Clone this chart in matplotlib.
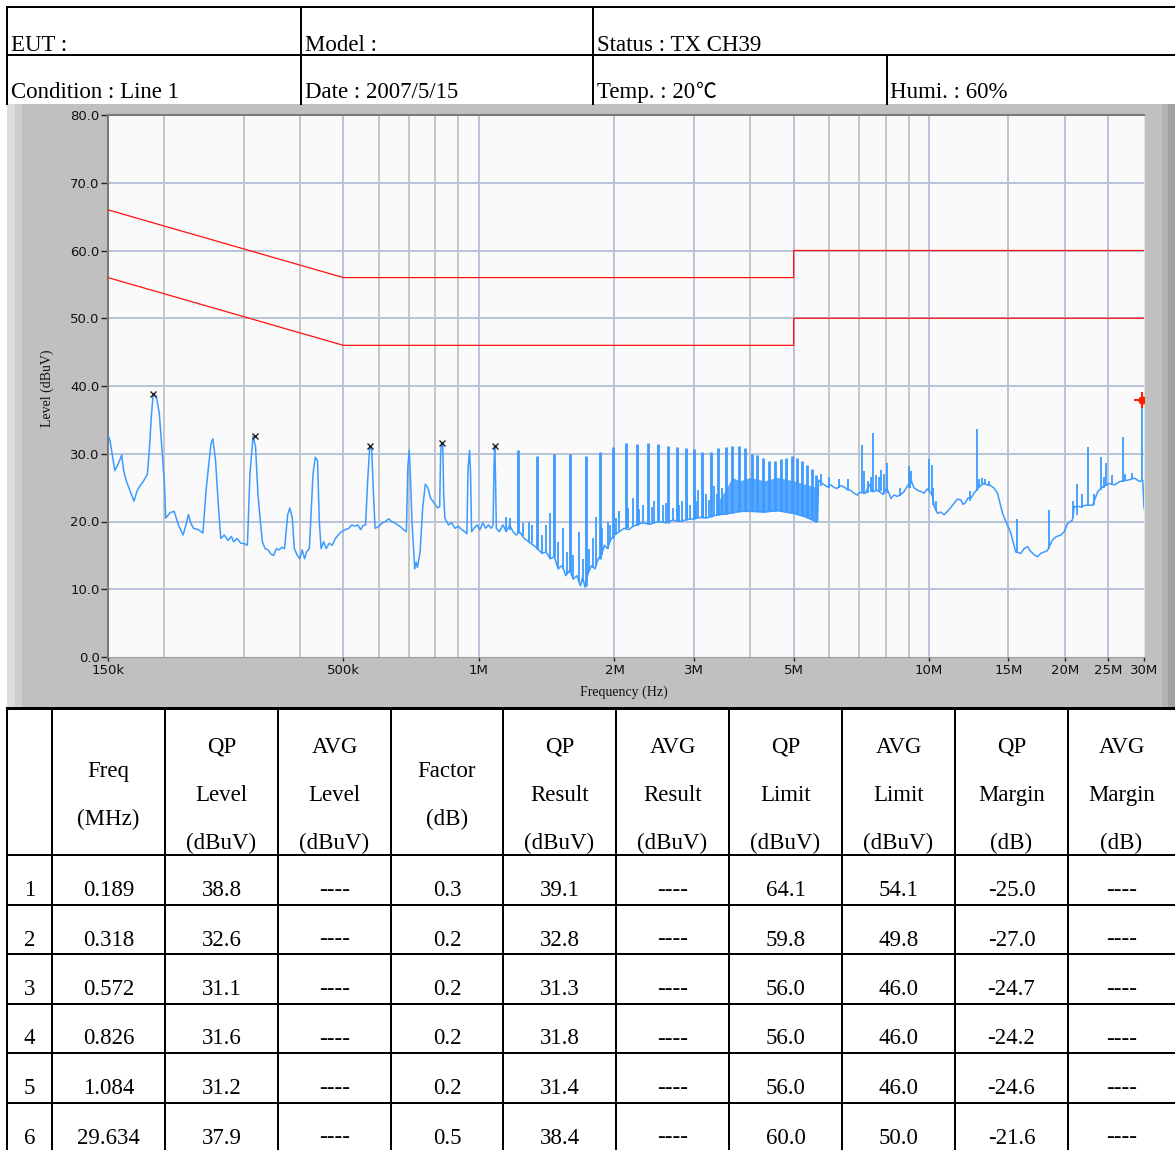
import matplotlib
matplotlib.use("Agg")
import matplotlib.pyplot as plt
from matplotlib.patches import Rectangle

# ---- measured trace (MHz, dBuV) ----
trace_f = [0.150, 0.1515, 0.1532, 0.1553, 0.1580, 0.1609, 0.1625, 0.1647, 0.1680, 0.1713,
           0.1740, 0.1764, 0.1800, 0.1835, 0.1855, 0.1872, 0.1890, 0.1920, 0.1950, 0.1975,
           0.2000, 0.2015, 0.2060, 0.2104, 0.2150, 0.2202, 0.2235, 0.2263, 0.2290, 0.2322,
           0.2380, 0.2437, 0.2480, 0.2540, 0.2565, 0.2600, 0.2640, 0.2670, 0.2720, 0.2770,
           0.2820, 0.2851, 0.2900, 0.2960, 0.3023, 0.3060, 0.3100, 0.3150, 0.3190, 0.3230,
           0.3270, 0.3304, 0.3350, 0.3402, 0.3450, 0.3500, 0.3550, 0.3600, 0.3650, 0.3700,
           0.3760, 0.3800, 0.3850, 0.3890, 0.3950, 0.4000, 0.4050, 0.4100, 0.4140, 0.4200,
           0.4280, 0.4330, 0.4380, 0.4420, 0.4460, 0.4520, 0.4580, 0.4650, 0.4720, 0.4800,
           0.4870, 0.4950, 0.5050, 0.5140, 0.5220, 0.5300, 0.5380, 0.5460, 0.5530, 0.5600,
           0.5660, 0.5720, 0.5780, 0.5830, 0.5880, 0.6000, 0.6100, 0.6200, 0.6300, 0.6400,
           0.6500, 0.6600, 0.6700, 0.6800, 0.6900, 0.6950, 0.7000, 0.7050, 0.7100, 0.7200,
           0.7250, 0.7300, 0.7400, 0.7500, 0.7600, 0.7700, 0.7800, 0.7900, 0.8000, 0.8100,
           0.8180, 0.8220, 0.8260, 0.8310, 0.8350, 0.8400, 0.8550, 0.8700, 0.8850, 0.9000,
           0.9150, 0.9300, 0.9400, 0.9460, 0.9530, 0.9580, 0.9630, 0.9750, 0.9900, 1.0050,
           1.0200, 1.0350, 1.0500, 1.0650, 1.0750, 1.0800, 1.0840, 1.0880, 1.0930, 1.1100,
           1.1300, 1.1500, 1.1700, 1.1900, 1.2100, 1.2300, 1.2600, 1.2900, 1.3200, 1.3500,
           1.3800, 1.4100, 1.4400, 1.4700, 1.5000, 1.5300, 1.5600, 1.5900, 1.6200, 1.6500,
           1.6800, 1.7000, 1.7200, 1.7500, 1.7800, 1.8100, 1.8400, 1.8700, 1.9000, 1.9300,
           1.9600, 2.0000, 2.0500, 2.1000, 2.1500, 2.2000, 2.2500, 2.3000, 2.4000, 2.5000,
           2.6000, 2.7000, 2.8000, 2.9000, 3.0000, 3.1000, 3.2000, 3.3000, 3.4000, 3.6000,
           3.8000, 4.0000, 4.3000, 4.6000, 5.0000, 5.3000, 5.6000, 5.6500, 5.6800, 5.7900,
           5.9400, 6.0500, 6.1500, 6.2500, 6.3500, 6.4700, 6.5800, 6.6900, 6.8000, 6.9300,
           7.0000, 7.2300, 7.3500, 7.5000, 7.6800, 7.9000, 8.0500, 8.2200, 8.3500, 8.5000,
           8.6500, 8.7900, 9.0000, 9.1300, 9.2500, 9.4200, 9.6000, 9.7400, 9.9000, 10.150,
           10.260, 10.440, 10.600, 10.790, 10.980, 11.150, 11.360, 11.550, 11.750, 11.900,
           12.060, 12.200, 12.370, 12.580, 12.910, 13.200, 13.480, 13.700, 13.940, 14.180,
           14.550, 14.850, 15.180, 15.570, 15.980, 16.250, 16.540, 16.800, 17.100, 17.400,
           17.700, 18.000, 18.300, 18.790, 19.200, 19.610, 19.950, 20.300, 20.800, 21.000,
           21.700, 22.300, 23.070, 23.670, 24.280, 25.100, 25.800, 26.500, 27.600, 28.600,
           29.300, 29.800, 30.000]
trace_db = [32.8, 32.0, 30.0, 27.5, 28.5, 29.8, 27.5, 26.0, 24.5, 23.0,
            24.5, 25.2, 26.0, 27.0, 31.0, 35.5, 38.8, 38.5, 36.0, 31.0,
            26.0, 20.5, 21.3, 21.5, 19.5, 18.0, 19.5, 21.0, 19.8, 19.0,
            18.8, 18.3, 25.0, 31.5, 32.2, 29.0, 22.0, 17.5, 18.0, 17.2,
            17.8, 17.0, 17.5, 16.8, 16.7, 16.5, 27.0, 32.6, 31.0, 24.0,
            20.0, 17.0, 16.0, 15.8, 15.2, 15.0, 16.0, 15.8, 16.2, 16.0,
            21.0, 22.0, 20.5, 16.0, 15.0, 14.5, 15.8, 14.5, 15.5, 16.0,
            27.0, 29.5, 29.0, 20.0, 16.0, 17.0, 16.0, 16.8, 16.5, 17.5,
            18.0, 18.5, 18.8, 19.0, 19.5, 19.3, 19.5, 18.8, 19.4, 19.5,
            26.0, 31.1, 30.5, 24.0, 19.0, 19.3, 19.8, 20.0, 20.4, 20.0,
            19.8, 19.5, 19.2, 18.8, 18.5, 28.0, 30.5, 26.0, 20.0, 13.0,
            14.0, 13.2, 15.5, 22.0, 25.5, 25.0, 23.5, 23.0, 22.5, 22.0,
            22.2, 30.0, 31.6, 31.3, 24.0, 20.5, 19.5, 19.8, 19.0, 19.3,
            18.8, 18.5, 18.2, 28.0, 30.5, 27.0, 18.5, 19.0, 19.5, 18.8,
            19.8, 19.0, 19.5, 19.0, 19.5, 28.0, 31.2, 27.0, 19.0, 18.5,
            19.5, 18.5, 19.5, 18.5, 18.0, 18.5, 17.5, 17.0, 16.5, 16.0,
            15.3, 15.5, 14.5, 14.8, 13.0, 13.5, 12.0, 12.8, 11.5, 12.0,
            10.5, 11.8, 10.3, 12.5, 13.5, 13.0, 14.5, 15.0, 16.5, 16.0,
            17.3, 18.0, 18.5, 19.0, 18.8, 19.3, 19.5, 19.8, 19.6, 20.0,
            19.8, 20.2, 20.0, 20.3, 20.4, 20.6, 20.5, 20.8, 21.0, 21.2,
            21.5, 21.5, 21.4, 21.6, 21.2, 20.7, 20.0, 20.0, 26.1, 25.6,
            25.1, 25.4, 25.0, 24.9, 25.3, 25.1, 24.7, 24.6, 24.2, 23.9,
            24.3, 24.2, 25.5, 24.4, 24.6, 24.0, 25.0, 23.4, 23.9, 23.7,
            24.0, 24.4, 25.5, 26.0, 25.0, 24.6, 24.4, 24.2, 24.8, 24.0,
            22.2, 21.2, 21.4, 21.0, 21.5, 22.0, 22.7, 23.3, 23.2, 22.5,
            22.9, 23.5, 23.4, 24.2, 25.1, 25.6, 25.4, 25.3, 24.9, 24.2,
            21.2, 19.8, 18.3, 15.5, 15.3, 16.0, 16.3, 15.6, 15.1, 14.8,
            15.3, 15.5, 15.7, 17.3, 17.8, 18.0, 18.5, 19.7, 20.2, 22.2,
            22.2, 22.4, 22.4, 24.4, 25.1, 25.6, 25.4, 25.9, 26.1, 26.4,
            25.9, 26.1, 22.0]

# comb lines of the switching harmonics: frequency, foot, top
comb_f = [1.219, 1.347, 1.471, 1.597, 1.733, 1.856, 1.987, 2.116, 2.247, 2.378,
          2.502, 2.633, 2.757, 2.888, 3.008, 3.133, 3.270, 3.401, 3.530, 3.654,
          3.780, 3.897, 4.033, 4.152, 4.281, 4.406, 4.543, 4.678, 4.817, 4.950,
          5.078, 5.209, 5.344, 5.483, 5.597]
comb_lo = [18.3, 16.0, 14.8, 12.5, 10.5, 14.5, 17.5, 19.0, 19.5, 19.6,
           20.0, 19.8, 20.1, 20.2, 20.4, 20.6, 20.7, 21.0, 21.1, 21.2,
           21.4, 21.5, 21.5, 21.5, 21.4, 21.5, 21.6, 21.6, 21.5, 21.3,
           21.1, 20.9, 20.7, 20.4, 20.0]
comb_hi = [30.5, 29.7, 30.0, 30.0, 29.7, 30.2, 31.0, 31.6, 31.4, 31.6,
           31.4, 31.2, 31.0, 30.9, 30.7, 30.3, 30.3, 30.8, 31.0, 31.2,
           31.1, 30.8, 30.0, 29.8, 29.3, 29.0, 29.0, 29.2, 29.4, 29.6,
           29.4, 28.9, 28.4, 27.8, 26.8]

# smaller spikes and noise on the trace: frequency, foot, top
spike_f = [1.150, 1.290, 1.440, 1.540, 1.670, 1.820, 1.930, 2.050, 2.200, 2.310,
           2.450, 2.560, 2.700, 2.820, 2.950, 3.070, 3.200, 3.330, 3.470,
           1.17, 1.25, 1.31, 1.38, 1.41, 1.50, 1.57, 1.62, 1.70, 1.76,
           1.79, 1.88, 1.95, 2.02, 2.14, 2.27, 2.42, 2.60, 2.78, 2.90,
           3.03, 3.15, 3.25, 3.38,
           5.75, 6.00, 6.30, 6.60, 7.15, 7.30, 7.60, 7.75, 7.95, 8.60,
           9.05, 9.10, 10.20, 10.35, 12.30, 12.90, 13.10, 13.30, 13.60, 20.90,
           21.80, 23.20, 24.50, 25.50, 27.20, 28.20,
           7.08, 7.42, 7.52, 7.81, 8.05, 9.02, 9.97, 10.12, 12.76, 15.65,
           18.47, 21.26, 22.56, 24.08, 24.70, 26.90, 29.634]
spike_lo = [18.5, 17.0, 14.5, 13.0, 11.0, 13.5, 16.0, 18.5, 19.3, 19.8,
            19.8, 20.0, 20.2, 20.0, 20.3, 20.5, 20.5, 20.8, 21.0,
            18.8, 17.8, 16.8, 15.3, 15.4, 13.2, 12.3, 11.5, 11.0, 12.5,
            13.2, 15.0, 17.0, 18.2, 19.0, 19.6, 19.6, 19.8, 20.1, 20.3,
            20.4, 20.6, 20.6, 21.0,
            25.3, 25.0, 25.0, 24.6, 24.0, 24.2, 24.5, 24.4, 24.0, 23.8,
            25.0, 25.5, 22.5, 21.5, 23.0, 25.0, 25.4, 25.5, 25.2, 20.5,
            22.0, 22.4, 25.0, 25.4, 26.0, 26.2,
            24.3, 24.3, 24.4, 24.5, 24.2, 25.0, 24.5, 23.8, 24.5, 15.4,
            15.9, 21.0, 22.4, 24.7, 25.3, 25.8, 26.1]
spike_hi = [20.7, 20.0, 21.3, 19.0, 18.5, 20.7, 20.0, 21.5, 23.5, 22.5,
            23.0, 22.5, 22.0, 23.0, 22.5, 24.7, 24.0, 25.3, 25.0,
            20.5, 19.8, 19.5, 18.0, 19.5, 17.0, 15.5, 15.0, 14.5, 16.0,
            17.5, 19.0, 19.5, 20.5, 22.0, 21.8, 22.2, 22.8, 22.5, 23.5,
            23.0, 24.5, 23.2, 24.0,
            27.0, 26.5, 26.3, 26.2, 27.5, 26.0, 26.8, 26.5, 27.0, 25.0,
            27.0, 27.5, 25.0, 23.0, 24.5, 26.3, 26.4, 26.2, 26.0, 23.0,
            24.0, 24.0, 26.5, 26.8, 27.0, 27.2,
            31.3, 26.6, 33.1, 27.6, 28.6, 28.2, 29.2, 28.3, 33.7, 20.4,
            21.7, 25.6, 31.0, 29.5, 28.6, 32.4, 37.9]

# dense comb region drawn as an envelope
band_f = [3.40, 3.55, 3.65, 3.80, 4.00, 4.30, 4.60, 5.00, 5.30, 5.65]
band_lo = [21.0, 21.1, 21.3, 21.5, 21.5, 21.4, 21.6, 21.2, 20.7, 20.0]
band_hi = [23.0, 25.0, 26.5, 26.0, 26.5, 26.0, 26.5, 26.0, 25.5, 25.0]

# limit lines
lim_f = [0.15, 0.5, 5.0, 5.0, 30.0]
qp_lim = [66, 56, 56, 60, 60]
avg_lim = [56, 46, 46, 50, 50]

# table data
no = ["1", "2", "3", "4", "5", "6"]
freq = ["0.189", "0.318", "0.572", "0.826", "1.084", "29.634"]
qp_level = ["38.8", "32.6", "31.1", "31.6", "31.2", "37.9"]
avg_level = ["----"] * 6
factor = ["0.3", "0.2", "0.2", "0.2", "0.2", "0.5"]
qp_result = ["39.1", "32.8", "31.3", "31.8", "31.4", "38.4"]
avg_result = ["----"] * 6
qp_limit = ["64.1", "59.8", "56.0", "56.0", "56.0", "60.0"]
avg_limit = ["54.1", "49.8", "46.0", "46.0", "46.0", "50.0"]
qp_margin = ["-25.0", "-27.0", "-24.7", "-24.2", "-24.6", "-21.6"]
avg_margin = ["----"] * 6

headers = ["", "Freq\n(MHz)", "QP\nLevel\n(dBuV)", "AVG\nLevel\n(dBuV)", "Factor\n(dB)",
           "QP\nResult\n(dBuV)", "AVG\nResult\n(dBuV)", "QP\nLimit\n(dBuV)",
           "AVG\nLimit\n(dBuV)", "QP\nMargin\n(dB)", "AVG\nMargin\n(dB)"]

xticks = [0.15, 0.5, 1, 2, 3, 5, 10, 15, 20, 25, 30]
xticklabels = ["150k", "500k", "1M", "2M", "3M", "5M", "10M", "15M", "20M", "25M", "30M"]
minor_f = [0.2, 0.3, 0.4, 0.6, 0.7, 0.8, 0.9, 4, 6, 7, 8, 9]

W, H = 1175, 1150
serif = "Liberation Serif"
blue = "#3d9bff"

fig = plt.figure(figsize=(W / 100, H / 100), dpi=100)
fig.patch.set_facecolor("white")

# page overlay in pixel units
ax0 = fig.add_axes([0, 0, 1, 1])
ax0.set_xlim(0, W)
ax0.set_ylim(H, 0)
ax0.axis("off")

# grey instrument panel
ax0.add_patch(Rectangle((7, 104), W - 7, 604, fc="#c0c0c0", ec="none"))
ax0.add_patch(Rectangle((7, 104), 8, 604, fc="#dcdcdc", ec="none"))
ax0.add_patch(Rectangle((15, 104), 7, 604, fc="#cecece", ec="none"))
ax0.add_patch(Rectangle((1162, 104), 6, 604, fc="#b2b2b2", ec="none"))
ax0.add_patch(Rectangle((1168, 104), 7, 604, fc="#a2a2a2", ec="none"))

lw_px = 2 * 72 / 100
# header table
for y in [7, 55]:
    ax0.plot([7, W], [y, y], color="black", lw=lw_px)
for x in [7, 301, 593]:
    ax0.plot([x, x], [7, 104], color="black", lw=lw_px)
ax0.plot([887, 887], [55, 104], color="black", lw=lw_px)

hdr = [(11, 51, "EUT :"), (305, 51, "Model :"), (597, 51, "Status : TX CH39"),
       (11, 98, "Condition : Line 1"), (305, 98, "Date : 2007/5/15"),
       (890, 98, "Humi. : 60%")]
for x, y, s in hdr:
    ax0.text(x, y, s, fontsize=16.5, family=serif, ha="left", va="baseline")
t = ax0.text(597, 98, "Temp. : 20", fontsize=16.5, family=serif, ha="left", va="baseline")
fig.canvas.draw()
t_end = ax0.transData.inverted().transform(
    t.get_window_extent(fig.canvas.get_renderer()))[1][0]
ax0.text(t_end + 1, 98, "\u2103", fontsize=15, family=["Noto Sans CJK JP", "DejaVu Sans"],
         ha="left", va="baseline")

# result table
col_x = [7, 52, 165, 278, 391, 503, 616, 729, 842, 955, 1068, W]
row_y = [708, 855, 904.5, 954, 1003.5, 1053, 1102.5]
ax0.plot([7, W], [708, 708], color="black", lw=3 * 72 / 100)
for y in row_y[1:]:
    ax0.plot([7, W], [y, y], color="black", lw=lw_px)
for x in col_x[:-1]:
    ax0.plot([x, x], [708, H], color="black", lw=lw_px)

cols = [no, freq, qp_level, avg_level, factor, qp_result, avg_result,
        qp_limit, avg_limit, qp_margin, avg_margin]
for j, h in enumerate(headers):
    cx = (col_x[j] + col_x[j + 1]) / 2
    lines = h.split("\n") if h else []
    y0 = 801 - 24 * (len(lines) - 1)
    for k, s in enumerate(lines):
        ax0.text(cx, y0 + 48 * k, s, fontsize=16.5, family=serif, ha="center", va="baseline")
    for i, s in enumerate(cols[j]):
        ax0.text(cx, row_y[i + 1] + 41, s, fontsize=16.5, family=serif,
                 ha="center", va="baseline")

# ---- spectrum plot ----
ax = fig.add_axes([108 / W, 1 - 657 / H, (1144 - 108) / W, (657 - 115) / H])
ax.set_facecolor("#fafafa")
ax.set_xscale("log")
ax.set_xlim(0.15, 30)
ax.set_ylim(0, 80)

for f in minor_f:
    ax.axvline(f, color="#c6c6c6", lw=1.4, zorder=1)
for f in xticks[1:-1]:
    ax.axvline(f, color="#b8c2da", lw=1.4, zorder=1)
for y in range(10, 80, 10):
    ax.axhline(y, color="#b8c2da", lw=1.4, zorder=1)

ax.plot(lim_f, qp_lim, color="#ff1010", lw=0.9, zorder=3)
ax.plot(lim_f, avg_lim, color="#ff1010", lw=0.9, zorder=3)

ax.fill_between(band_f, band_lo, band_hi, color=blue, alpha=0.85, lw=0, zorder=2)
ax.plot(trace_f, trace_db, color=blue, lw=1.1, zorder=3)
ax.vlines(comb_f, comb_lo, comb_hi, color=blue, lw=2.0, zorder=3)
ax.vlines(spike_f, spike_lo, spike_hi, color=blue, lw=1.3, zorder=3)

pk_f = [float(v) for v in freq]
pk_db = [float(v) for v in qp_level]
ax.plot(pk_f[:5], pk_db[:5], ls="none", marker="x", ms=5, mew=1.0,
        color="#222222", zorder=4)
ax.plot(pk_f[5:], pk_db[5:], ls="none", marker="+", ms=11, mew=1.5,
        color="#ff2000", zorder=5)
ax.plot(pk_f[5:], pk_db[5:], ls="none", marker="o", ms=5, color="#ff2000", zorder=5)

ax.set_xticks(xticks)
ax.set_xticklabels(xticklabels)
ax.minorticks_off()
ax.set_yticks(range(0, 81, 10))
ax.set_yticklabels([f"{v:.1f}" for v in range(0, 81, 10)])
ax.tick_params(axis="y", length=5, width=1, color="#222222", pad=1, labelsize=9.5,
               labelcolor="#111111")
ax.tick_params(axis="x", length=3, width=1, color="#222222", pad=2, labelsize=9.5,
               labelcolor="#111111")
for lab in ax.get_xticklabels() + ax.get_yticklabels():
    lab.set_family("DejaVu Sans")

ax.spines["left"].set_color("#7a7a7a")
ax.spines["top"].set_color("#7a7a7a")
ax.spines["left"].set_linewidth(1.5)
ax.spines["top"].set_linewidth(1.5)
ax.spines["right"].set_color("#e0e0e0")
ax.spines["bottom"].set_color("#a0a0a0")

ax0.text(47, 388, "Level (dBuV)", rotation=90, fontsize=10, family=serif,
         ha="center", va="center", color="#111111")
ax0.text(624, 692, "Frequency (Hz)", fontsize=10, family=serif,
         ha="center", va="center", color="#111111")

fig.savefig("out.png", dpi=100, facecolor="white")
